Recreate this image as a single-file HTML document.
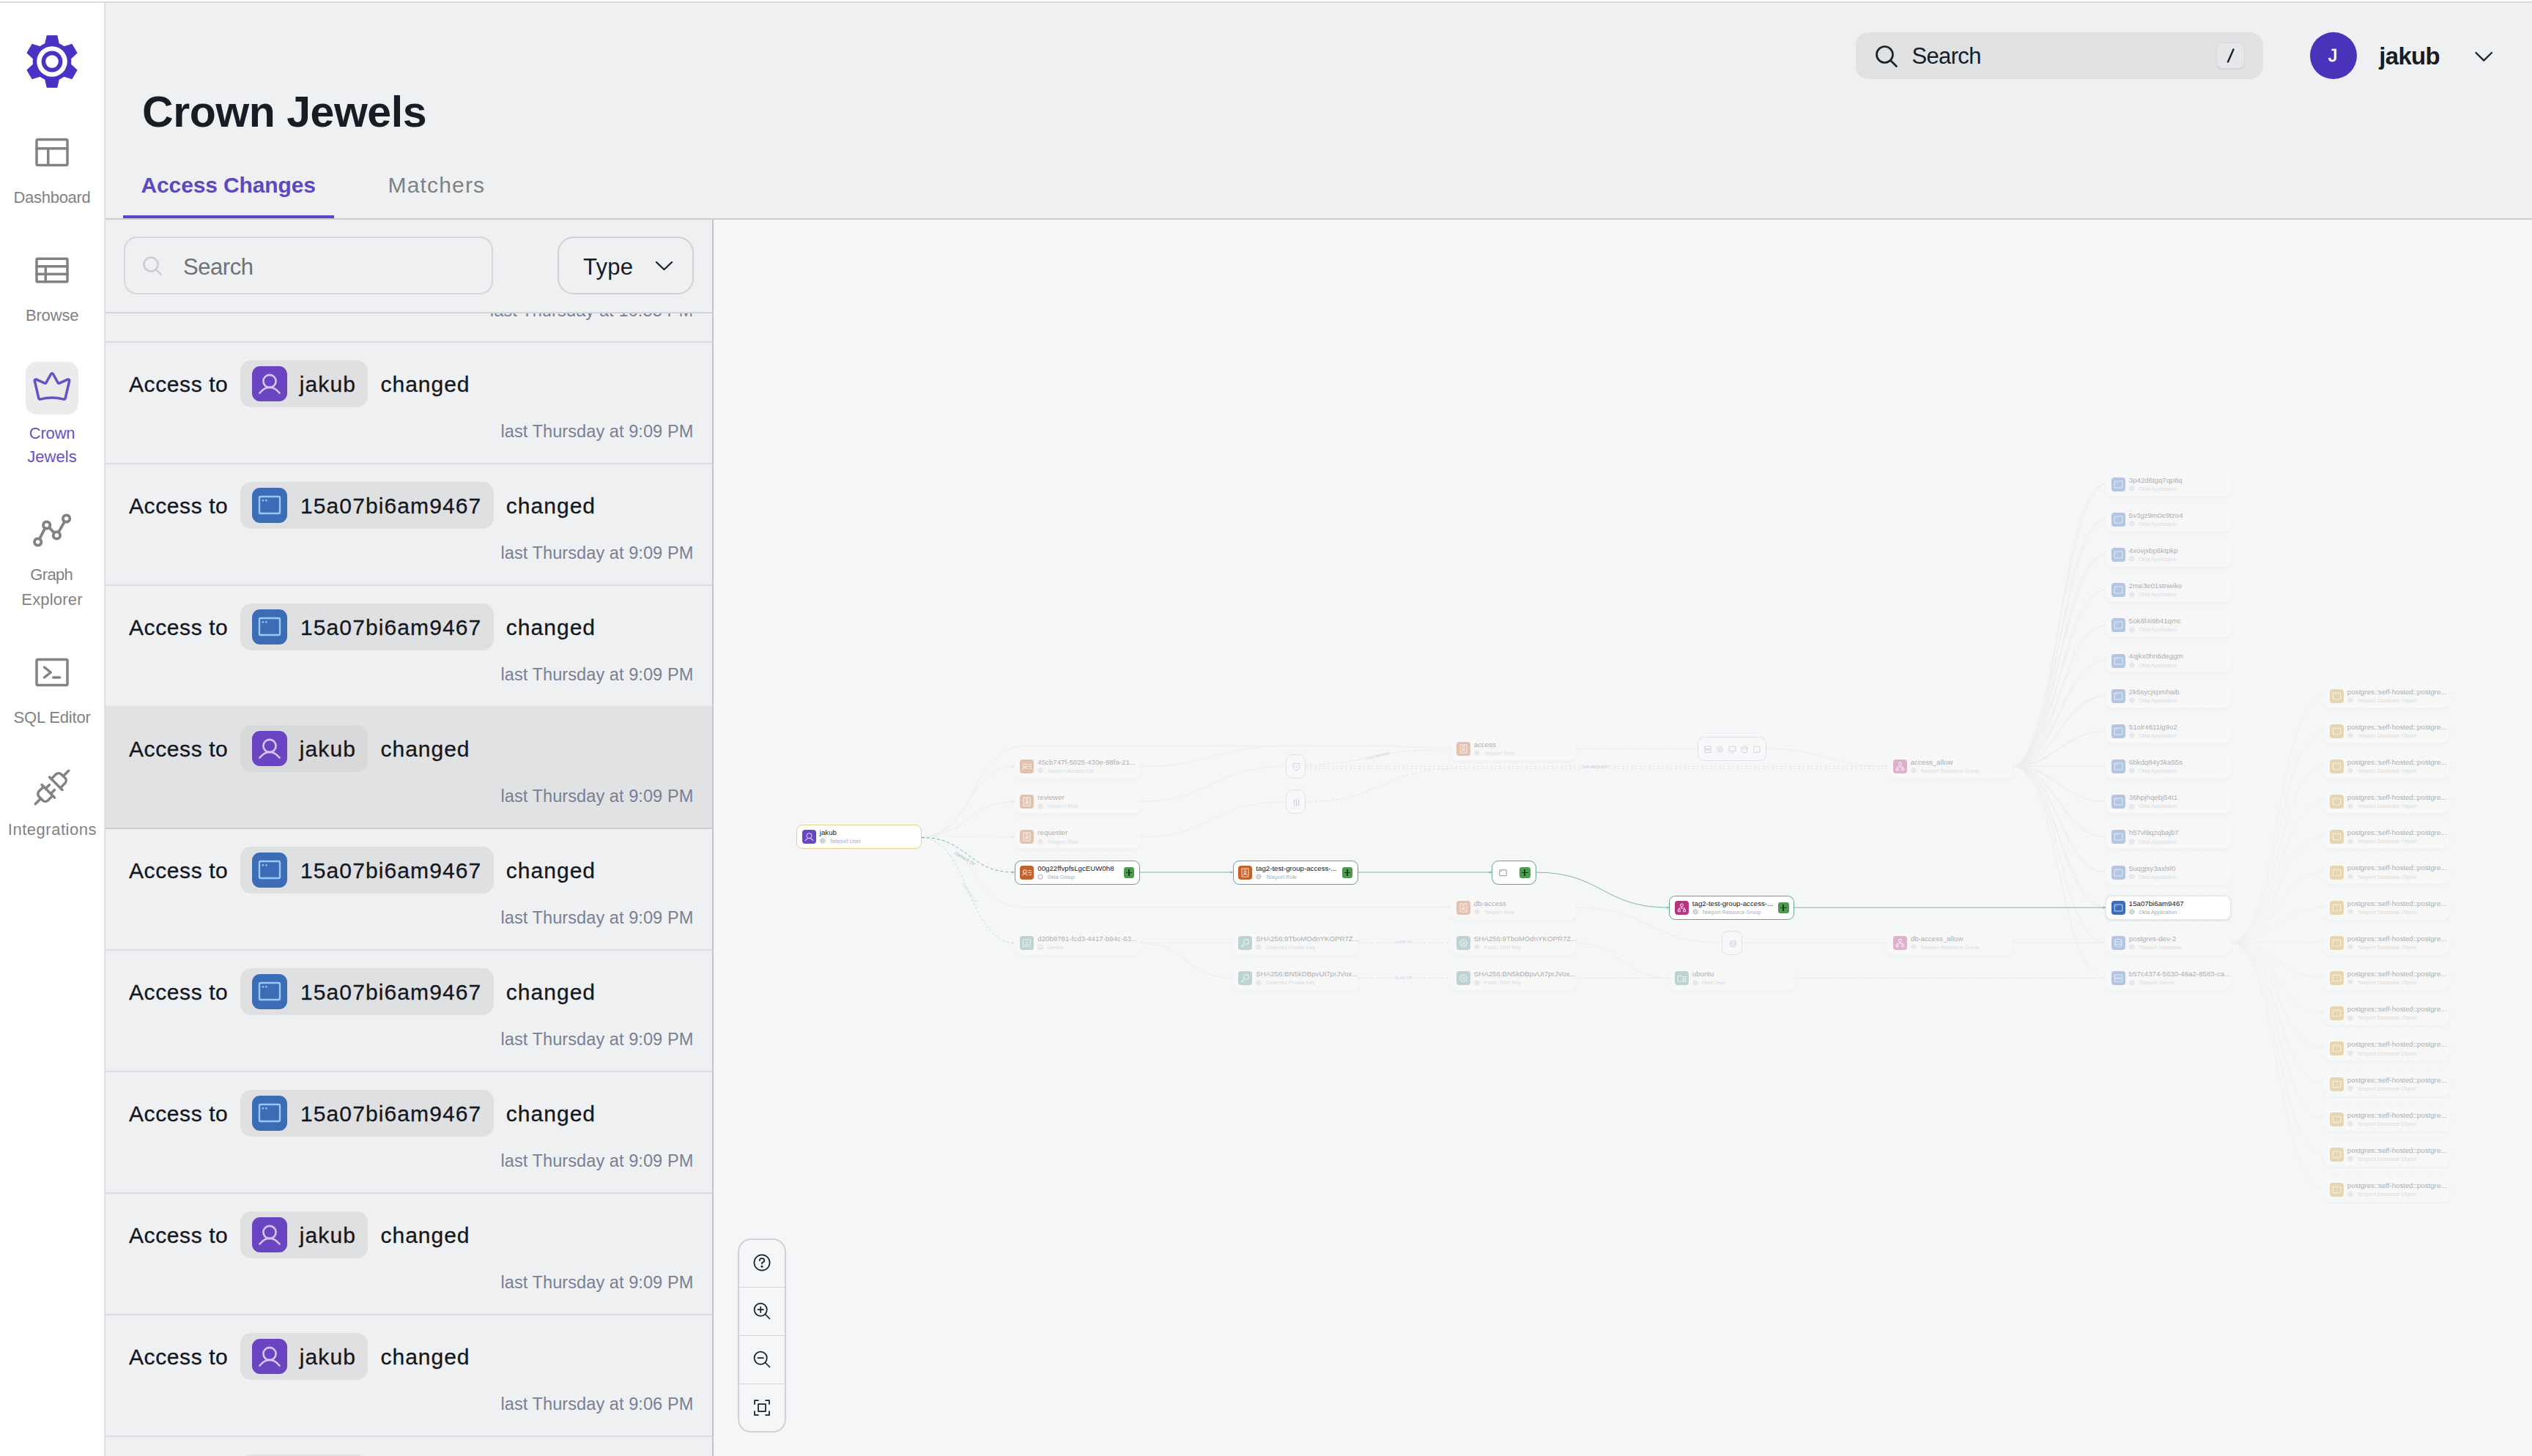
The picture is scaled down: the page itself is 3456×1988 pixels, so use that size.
<!DOCTYPE html><html><head><meta charset="utf-8"><title>Crown Jewels</title><style>
*{box-sizing:border-box;margin:0;padding:0}
html,body{width:3456px;height:1988px;overflow:hidden;background:#eff0f2;font-family:"Liberation Sans",sans-serif;}
body{position:relative}
.a{position:absolute}
.t{position:absolute;white-space:nowrap;line-height:1}
svg{position:absolute;overflow:visible}
.ni{fill:none;stroke:#828282;stroke-width:16;stroke-linecap:round;stroke-linejoin:round}

.g{position:absolute;left:974px;top:300px;width:2482px;height:1688px;background:#f5f6f7;overflow:hidden;
 background-image:radial-gradient(circle,#f9fafb 0.8px,rgba(249,250,251,0) 1.2px);background-size:14.2px 14.2px;background-position:3px 5px}
.n{position:absolute;height:33px;border-radius:8.5px;background:#fff;border:1px solid #ececef}
.n.f{opacity:.35;border-color:transparent;background:rgba(255,255,255,.6);box-shadow:0 1.5px 2px rgba(60,60,80,.08)}
.ic{position:absolute;left:6.800px;top:6.200px;width:19px;height:19px;border-radius:4px}
.ic svg{left:0;top:0}
.nt{position:absolute;left:30.800px;top:4.100px;font-size:9.7px;line-height:11px;color:#17181c;white-space:nowrap}
.ns{position:absolute;left:44.200px;top:17.300px;font-size:7.2px;line-height:9px;color:#a6aab3;white-space:nowrap}
.si{position:absolute;left:30.800px;top:17.600px;width:8px;height:8px}
.pl{position:absolute;right:6.500px;top:8.700px;width:14.5px;height:14.5px;border-radius:3.2px;background:#4f9a52}
.pl:before{content:"";position:absolute;left:3px;top:6.45px;width:8.5px;height:1.6px;background:#1b3f1d}
.pl:after{content:"";position:absolute;left:6.450px;top:3px;width:1.6px;height:8.5px;background:#1b3f1d}
</style></head><body>
<div class="a" style="left:0;top:0;width:3456px;height:2px;background:#fff"></div>
<div class="a" style="left:0;top:2px;width:3456px;height:2px;background:#dbdcdd"></div>
<div class="a" style="left:0;top:4px;width:142px;height:1984px;background:#fff"></div>
<div class="a" style="left:142px;top:4px;width:2px;height:1984px;background:#e0e1e2"></div>
<svg style="left:35px;top:48px" width="72" height="72" viewBox="-36 -36 72 72">
<g fill="#4b31c4" stroke="#4b31c4" stroke-width="1.2" stroke-linejoin="round">
<circle r="26.4" stroke="none"/>
<path id="tooth" d="M-9.300,-24 L-6.800,-35.200 L6.800,-35.200 L9.300,-24 Z"/>
<use href="#tooth" transform="rotate(60)"/><use href="#tooth" transform="rotate(120)"/><use href="#tooth" transform="rotate(180)"/><use href="#tooth" transform="rotate(240)"/><use href="#tooth" transform="rotate(300)"/>
</g>
<circle r="20.800" fill="#fff"/><circle r="14.400" fill="#4b31c4"/><circle r="8.800" fill="#fff"/>
</svg>
<svg class="ni" style="left:43.0px;top:179.5px" width="56" height="56" viewBox="0 0 256 256"><rect x="32" y="48" width="192" height="160" rx="8"/><line x1="104" y1="104" x2="104" y2="208"/><line x1="32" y1="104" x2="224" y2="104"/></svg>
<div class="t" style="left:18.50px;top:258.58px;font-size:22px;color:#828282;letter-spacing:-0.285px;">Dashboard</div>
<svg class="ni" style="left:43.0px;top:340.6px" width="56" height="56" viewBox="0 0 256 256"><rect x="32" y="56" width="192" height="144" rx="6"/><line x1="32" y1="104" x2="224" y2="104"/><line x1="32" y1="152" x2="224" y2="152"/><line x1="88" y1="104" x2="88" y2="200"/></svg>
<div class="t" style="left:34.90px;top:419.98px;font-size:22px;color:#828282;letter-spacing:-0.154px;">Browse</div>
<div class="a" style="left:35px;top:494px;width:72px;height:72px;border-radius:15px;background:#ebebed"></div>
<svg class="ni" style="left:43.0px;top:501.20000000000005px" width="56" height="56" viewBox="0 0 256 256"><path d="M45.1,196a8.1,8.1,0,0,0,10,5.9,273,273,0,0,1,145.7,0,8.1,8.1,0,0,0,10-5.9L236.3,87.700a8,8,0,0,0-11-9.200L174.7,101a8.100,8.100,0,0,1-10.300-3.400L135,44.600a8,8,0,0,0-14,0L91.600,97.600A8.100,8.100,0,0,1,81.300,101L30.700,78.500a8,8,0,0,0-11,9.200Z" style="stroke:#6a50c6"/></svg>
<div class="t" style="left:39.70px;top:580.98px;font-size:22px;color:#6a50c6;letter-spacing:-0.170px;">Crown</div>
<div class="t" style="left:37.30px;top:613.48px;font-size:22px;color:#6a50c6;letter-spacing:0.018px;">Jewels</div>
<svg style="left:0;top:0" width="142" height="1988" fill="none" stroke="#828282" stroke-width="3.8" stroke-linecap="round">
<circle cx="51.7" cy="740" r="4.7"/><circle cx="63.7" cy="717" r="4.7"/><circle cx="77.4" cy="730.9" r="4.7"/><circle cx="90.6" cy="708" r="4.7"/>
<line x1="53.9" y1="735.8" x2="61.5" y2="721.2"/><line x1="67" y1="720.3" x2="74.1" y2="727.6"/><line x1="79.8" y1="726.8" x2="88.2" y2="712.1"/>
</svg>
<div class="t" style="left:41.30px;top:774.38px;font-size:22px;color:#828282;letter-spacing:-0.665px;">Graph</div>
<div class="t" style="left:29.30px;top:808.08px;font-size:22px;color:#828282;letter-spacing:0.179px;">Explorer</div>
<svg class="ni" style="left:43.0px;top:889.5px" width="56" height="56" viewBox="0 0 256 256"><rect x="32" y="48" width="192" height="160" rx="8"/><polyline points="80 96 120 128 80 160"/><line x1="136" y1="160" x2="176" y2="160"/></svg>
<div class="t" style="left:18.50px;top:969.18px;font-size:22px;color:#828282;letter-spacing:-0.168px;">SQL Editor</div>
<svg class="ni" style="left:43.0px;top:1047.0px" width="56" height="56" viewBox="0 0 256 256"><line x1="144" y1="144" x2="120" y2="168"/><line x1="112" y1="112" x2="88" y2="136"/><line x1="64" y1="112" x2="144" y2="192"/><line x1="58.060" y1="197.940" x2="24" y2="232"/><path d="M132,180l-29,29a24,24,0,0,1-33.940,0L47,185.940A24,24,0,0,1,47,152l29-29"/><line x1="112" y1="64" x2="192" y2="144"/><line x1="197.940" y1="58.060" x2="232" y2="24"/><path d="M180,132l29-29a24,24,0,0,0,0-33.940L185.940,47A24,24,0,0,0,152,47L123,76"/></svg>
<div class="t" style="left:10.80px;top:1122.18px;font-size:22px;color:#828282;letter-spacing:0.523px;">Integrations</div>
<div class="t" style="left:194.00px;top:124.06px;font-size:59px;color:#181c25;font-weight:bold;letter-spacing:-0.457px;">Crown Jewels</div>
<div class="a" style="left:2533px;top:44px;width:556px;height:64px;border-radius:18px;background:#e0e1e3"></div>
<svg style="left:2556px;top:58px" width="40" height="40" viewBox="0 0 40 40" fill="none" stroke="#1c2029" stroke-width="2.700" stroke-linecap="round"><circle cx="16.500" cy="16.500" r="11"/><line x1="24.500" y1="24.500" x2="32.5" y2="32.500"/></svg>
<div class="t" style="left:2609.50px;top:61.26px;font-size:31px;color:#181c25;letter-spacing:-0.654px;">Search</div>
<div class="a" style="left:3025px;top:58px;width:39px;height:36px;border-radius:9px;background:#e6e7e9;border:1.5px solid #d6d7da;box-shadow:0 2px 0 #d9dadd"></div>
<svg style="left:3036px;top:64px" width="18" height="24" fill="none" stroke="#1c2029" stroke-width="2.4" stroke-linecap="round"><line x1="12.5" y1="3.5" x2="5" y2="20.5"/></svg>
<div class="a" style="left:3153px;top:44px;width:64px;height:64px;border-radius:50%;background:#4b32bb"></div>
<div class="t" style="left:3177.88px;top:64.16px;font-size:24.5px;color:#fff;-webkit-text-stroke:0.7px #fff;">J</div>
<div class="t" style="left:3247.36px;top:59.67px;font-size:33px;color:#181c25;font-weight:bold;letter-spacing:-0.747px;">jakub</div>
<svg style="left:3374px;top:66px" width="32" height="24" fill="none" stroke="#20242c" stroke-width="2.400" stroke-linecap="round" stroke-linejoin="round"><polyline points="5.500,6 16.200,16.600 27,6"/></svg>
<div class="t" style="left:192.50px;top:238.35px;font-size:30px;color:#5e47c2;font-weight:bold;letter-spacing:-0.127px;">Access Changes</div>
<div class="t" style="left:529.50px;top:238.35px;font-size:30px;color:#818181;letter-spacing:1.171px;">Matchers</div>
<div class="a" style="left:144px;top:298px;width:3312px;height:2px;background:#cbccce"></div>
<div class="a" style="left:168px;top:294px;width:288px;height:4px;background:#5e47c2"></div>
<div class="a" style="left:972px;top:300px;width:2px;height:1688px;background:#c5c6ca"></div>
<div class="a" style="left:169px;top:323px;width:504px;height:79px;border-radius:18px;border:2px solid #d6d7da"></div>
<svg style="left:190px;top:345px" width="40" height="40" fill="none" stroke="#c9cbd0" stroke-width="2.4" stroke-linecap="round"><circle cx="16" cy="16" r="9.500"/><line x1="23" y1="23" x2="30" y2="30"/></svg>
<div class="t" style="left:250.00px;top:348.76px;font-size:31px;color:#6f7277;letter-spacing:-0.454px;">Search</div>
<div class="a" style="left:761px;top:323px;width:186px;height:79px;border-radius:22px;border:2px solid #d0d1d4"></div>
<div class="t" style="left:796.00px;top:348.76px;font-size:31px;color:#181c25;letter-spacing:0.243px;">Type</div>
<svg style="left:891px;top:351.5px" width="32" height="24" fill="none" stroke="#20242c" stroke-width="2.4" stroke-linecap="round" stroke-linejoin="round"><polyline points="5,6 15.500,16 26,6"/></svg>
<div class="a" style="left:144px;top:426px;width:828px;height:2px;background:#d3d4d7"></div>
<div class="a" style="left:144px;top:428px;width:828px;height:38px;overflow:hidden"><div class="t" style="left:524.80px;top:-15.19px;font-size:23.5px;color:#798095;letter-spacing:0.138px;">last Thursday at 10:55 PM</div></div>
<div class="a" style="left:144px;top:466px;width:828px;height:2px;background:#dcdde0"></div>
<div class="t" style="left:176.00px;top:509.61px;font-size:30px;color:#14171e;letter-spacing:0.588px;-webkit-text-stroke:0.3px #14171e;">Access to</div>
<div class="a" style="left:328px;top:492px;width:174px;height:64px;border-radius:15px;background:#dfe0e2"></div>
<div class="a" style="left:344px;top:500px;width:48px;height:48px;border-radius:11px;background:#6a45c1"><svg style="left:0;top:0" width="48" height="48" viewBox="0 0 48 48" fill="none" stroke="#dac6f9" stroke-width="2.6" stroke-linecap="round"><circle cx="24" cy="20.5" r="8.600"/><path d="M10.500,36.500 Q24,21 37.500,36.500"/></svg></div>
<div class="t" style="left:408.75px;top:509.61px;font-size:30px;color:#14171e;letter-spacing:1.137px;-webkit-text-stroke:0.3px #14171e;">jakub</div>
<div class="t" style="left:519.50px;top:509.61px;font-size:30px;color:#14171e;letter-spacing:0.992px;-webkit-text-stroke:0.3px #14171e;">changed</div>
<div class="t" style="left:683.50px;top:577.61px;font-size:23.5px;color:#798095;letter-spacing:0.083px;">last Thursday at 9:09 PM</div>
<div class="a" style="left:144px;top:632px;width:828px;height:2px;background:#dcdde0"></div>
<div class="t" style="left:176.00px;top:675.61px;font-size:30px;color:#14171e;letter-spacing:0.588px;-webkit-text-stroke:0.3px #14171e;">Access to</div>
<div class="a" style="left:328px;top:658px;width:346px;height:64px;border-radius:15px;background:#dfe0e2"></div>
<div class="a" style="left:344px;top:666px;width:48px;height:48px;border-radius:11px;background:#3c6cb6"><svg style="left:0;top:0" width="48" height="48" viewBox="0 0 48 48" fill="none" stroke="#97cafc" stroke-width="2.400" stroke-linejoin="round"><rect x="10" y="12" width="28" height="23" rx="1.500"/><circle cx="15" cy="17.300" r="1.300" fill="#97cafc" stroke="none"/><circle cx="19.400" cy="17.300" r="1.300" fill="#97cafc" stroke="none"/></svg></div>
<div class="t" style="left:410.00px;top:675.61px;font-size:30px;color:#14171e;letter-spacing:1.104px;-webkit-text-stroke:0.3px #14171e;">15a07bi6am9467</div>
<div class="t" style="left:690.75px;top:675.61px;font-size:30px;color:#14171e;letter-spacing:1.033px;-webkit-text-stroke:0.3px #14171e;">changed</div>
<div class="t" style="left:683.50px;top:743.61px;font-size:23.5px;color:#798095;letter-spacing:0.083px;">last Thursday at 9:09 PM</div>
<div class="a" style="left:144px;top:798px;width:828px;height:2px;background:#dcdde0"></div>
<div class="t" style="left:176.00px;top:841.61px;font-size:30px;color:#14171e;letter-spacing:0.588px;-webkit-text-stroke:0.3px #14171e;">Access to</div>
<div class="a" style="left:328px;top:824px;width:346px;height:64px;border-radius:15px;background:#dfe0e2"></div>
<div class="a" style="left:344px;top:832px;width:48px;height:48px;border-radius:11px;background:#3c6cb6"><svg style="left:0;top:0" width="48" height="48" viewBox="0 0 48 48" fill="none" stroke="#97cafc" stroke-width="2.400" stroke-linejoin="round"><rect x="10" y="12" width="28" height="23" rx="1.500"/><circle cx="15" cy="17.300" r="1.300" fill="#97cafc" stroke="none"/><circle cx="19.400" cy="17.300" r="1.300" fill="#97cafc" stroke="none"/></svg></div>
<div class="t" style="left:410.00px;top:841.61px;font-size:30px;color:#14171e;letter-spacing:1.104px;-webkit-text-stroke:0.3px #14171e;">15a07bi6am9467</div>
<div class="t" style="left:690.75px;top:841.61px;font-size:30px;color:#14171e;letter-spacing:1.033px;-webkit-text-stroke:0.3px #14171e;">changed</div>
<div class="t" style="left:683.50px;top:909.61px;font-size:23.5px;color:#798095;letter-spacing:0.083px;">last Thursday at 9:09 PM</div>
<div class="a" style="left:144px;top:964px;width:828px;height:166px;background:#e1e2e4"></div>
<div class="t" style="left:176.00px;top:1007.61px;font-size:30px;color:#14171e;letter-spacing:0.588px;-webkit-text-stroke:0.3px #14171e;">Access to</div>
<div class="a" style="left:328px;top:990px;width:174px;height:64px;border-radius:15px;background:#d8d9db"></div>
<div class="a" style="left:344px;top:998px;width:48px;height:48px;border-radius:11px;background:#6a45c1"><svg style="left:0;top:0" width="48" height="48" viewBox="0 0 48 48" fill="none" stroke="#dac6f9" stroke-width="2.6" stroke-linecap="round"><circle cx="24" cy="20.5" r="8.600"/><path d="M10.500,36.500 Q24,21 37.500,36.500"/></svg></div>
<div class="t" style="left:408.75px;top:1007.61px;font-size:30px;color:#14171e;letter-spacing:1.137px;-webkit-text-stroke:0.3px #14171e;">jakub</div>
<div class="t" style="left:519.50px;top:1007.61px;font-size:30px;color:#14171e;letter-spacing:0.992px;-webkit-text-stroke:0.3px #14171e;">changed</div>
<div class="t" style="left:683.50px;top:1075.61px;font-size:23.5px;color:#798095;letter-spacing:0.083px;">last Thursday at 9:09 PM</div>
<div class="a" style="left:144px;top:1130px;width:828px;height:2px;background:#cccdcf"></div>
<div class="t" style="left:176.00px;top:1173.61px;font-size:30px;color:#14171e;letter-spacing:0.588px;-webkit-text-stroke:0.3px #14171e;">Access to</div>
<div class="a" style="left:328px;top:1156px;width:346px;height:64px;border-radius:15px;background:#dfe0e2"></div>
<div class="a" style="left:344px;top:1164px;width:48px;height:48px;border-radius:11px;background:#3c6cb6"><svg style="left:0;top:0" width="48" height="48" viewBox="0 0 48 48" fill="none" stroke="#97cafc" stroke-width="2.400" stroke-linejoin="round"><rect x="10" y="12" width="28" height="23" rx="1.500"/><circle cx="15" cy="17.300" r="1.300" fill="#97cafc" stroke="none"/><circle cx="19.400" cy="17.300" r="1.300" fill="#97cafc" stroke="none"/></svg></div>
<div class="t" style="left:410.00px;top:1173.61px;font-size:30px;color:#14171e;letter-spacing:1.104px;-webkit-text-stroke:0.3px #14171e;">15a07bi6am9467</div>
<div class="t" style="left:690.75px;top:1173.61px;font-size:30px;color:#14171e;letter-spacing:1.033px;-webkit-text-stroke:0.3px #14171e;">changed</div>
<div class="t" style="left:683.50px;top:1241.61px;font-size:23.5px;color:#798095;letter-spacing:0.083px;">last Thursday at 9:09 PM</div>
<div class="a" style="left:144px;top:1296px;width:828px;height:2px;background:#dcdde0"></div>
<div class="t" style="left:176.00px;top:1339.61px;font-size:30px;color:#14171e;letter-spacing:0.588px;-webkit-text-stroke:0.3px #14171e;">Access to</div>
<div class="a" style="left:328px;top:1322px;width:346px;height:64px;border-radius:15px;background:#dfe0e2"></div>
<div class="a" style="left:344px;top:1330px;width:48px;height:48px;border-radius:11px;background:#3c6cb6"><svg style="left:0;top:0" width="48" height="48" viewBox="0 0 48 48" fill="none" stroke="#97cafc" stroke-width="2.400" stroke-linejoin="round"><rect x="10" y="12" width="28" height="23" rx="1.500"/><circle cx="15" cy="17.300" r="1.300" fill="#97cafc" stroke="none"/><circle cx="19.400" cy="17.300" r="1.300" fill="#97cafc" stroke="none"/></svg></div>
<div class="t" style="left:410.00px;top:1339.61px;font-size:30px;color:#14171e;letter-spacing:1.104px;-webkit-text-stroke:0.3px #14171e;">15a07bi6am9467</div>
<div class="t" style="left:690.75px;top:1339.61px;font-size:30px;color:#14171e;letter-spacing:1.033px;-webkit-text-stroke:0.3px #14171e;">changed</div>
<div class="t" style="left:683.50px;top:1407.61px;font-size:23.5px;color:#798095;letter-spacing:0.083px;">last Thursday at 9:09 PM</div>
<div class="a" style="left:144px;top:1462px;width:828px;height:2px;background:#dcdde0"></div>
<div class="t" style="left:176.00px;top:1505.61px;font-size:30px;color:#14171e;letter-spacing:0.588px;-webkit-text-stroke:0.3px #14171e;">Access to</div>
<div class="a" style="left:328px;top:1488px;width:346px;height:64px;border-radius:15px;background:#dfe0e2"></div>
<div class="a" style="left:344px;top:1496px;width:48px;height:48px;border-radius:11px;background:#3c6cb6"><svg style="left:0;top:0" width="48" height="48" viewBox="0 0 48 48" fill="none" stroke="#97cafc" stroke-width="2.400" stroke-linejoin="round"><rect x="10" y="12" width="28" height="23" rx="1.500"/><circle cx="15" cy="17.300" r="1.300" fill="#97cafc" stroke="none"/><circle cx="19.400" cy="17.300" r="1.300" fill="#97cafc" stroke="none"/></svg></div>
<div class="t" style="left:410.00px;top:1505.61px;font-size:30px;color:#14171e;letter-spacing:1.104px;-webkit-text-stroke:0.3px #14171e;">15a07bi6am9467</div>
<div class="t" style="left:690.75px;top:1505.61px;font-size:30px;color:#14171e;letter-spacing:1.033px;-webkit-text-stroke:0.3px #14171e;">changed</div>
<div class="t" style="left:683.50px;top:1573.61px;font-size:23.5px;color:#798095;letter-spacing:0.083px;">last Thursday at 9:09 PM</div>
<div class="a" style="left:144px;top:1628px;width:828px;height:2px;background:#dcdde0"></div>
<div class="t" style="left:176.00px;top:1671.61px;font-size:30px;color:#14171e;letter-spacing:0.588px;-webkit-text-stroke:0.3px #14171e;">Access to</div>
<div class="a" style="left:328px;top:1654px;width:174px;height:64px;border-radius:15px;background:#dfe0e2"></div>
<div class="a" style="left:344px;top:1662px;width:48px;height:48px;border-radius:11px;background:#6a45c1"><svg style="left:0;top:0" width="48" height="48" viewBox="0 0 48 48" fill="none" stroke="#dac6f9" stroke-width="2.6" stroke-linecap="round"><circle cx="24" cy="20.5" r="8.600"/><path d="M10.500,36.500 Q24,21 37.500,36.500"/></svg></div>
<div class="t" style="left:408.75px;top:1671.61px;font-size:30px;color:#14171e;letter-spacing:1.137px;-webkit-text-stroke:0.3px #14171e;">jakub</div>
<div class="t" style="left:519.50px;top:1671.61px;font-size:30px;color:#14171e;letter-spacing:0.992px;-webkit-text-stroke:0.3px #14171e;">changed</div>
<div class="t" style="left:683.50px;top:1739.61px;font-size:23.5px;color:#798095;letter-spacing:0.083px;">last Thursday at 9:09 PM</div>
<div class="a" style="left:144px;top:1794px;width:828px;height:2px;background:#dcdde0"></div>
<div class="t" style="left:176.00px;top:1837.61px;font-size:30px;color:#14171e;letter-spacing:0.588px;-webkit-text-stroke:0.3px #14171e;">Access to</div>
<div class="a" style="left:328px;top:1820px;width:174px;height:64px;border-radius:15px;background:#dfe0e2"></div>
<div class="a" style="left:344px;top:1828px;width:48px;height:48px;border-radius:11px;background:#6a45c1"><svg style="left:0;top:0" width="48" height="48" viewBox="0 0 48 48" fill="none" stroke="#dac6f9" stroke-width="2.6" stroke-linecap="round"><circle cx="24" cy="20.5" r="8.600"/><path d="M10.500,36.500 Q24,21 37.500,36.500"/></svg></div>
<div class="t" style="left:408.75px;top:1837.61px;font-size:30px;color:#14171e;letter-spacing:1.137px;-webkit-text-stroke:0.3px #14171e;">jakub</div>
<div class="t" style="left:519.50px;top:1837.61px;font-size:30px;color:#14171e;letter-spacing:0.992px;-webkit-text-stroke:0.3px #14171e;">changed</div>
<div class="t" style="left:683.50px;top:1905.61px;font-size:23.5px;color:#798095;letter-spacing:0.083px;">last Thursday at 9:06 PM</div>
<div class="a" style="left:144px;top:1960px;width:828px;height:2px;background:#dcdde0"></div>
<div class="a" style="left:328px;top:1986px;width:174px;height:64px;border-radius:15px;background:#dfe0e2"></div>
<div class="g">
<svg style="left:0;top:0" width="2482" height="1688" fill="none" stroke-width="1">
<path d="M2071.0,987.3 C2134.5,987.3 2134.5,650.0 2198.0,650.0 M2071.0,987.3 C2134.5,987.3 2134.5,698.2 2198.0,698.2 M2071.0,987.3 C2134.5,987.3 2134.5,746.4 2198.0,746.4 M2071.0,987.3 C2134.5,987.3 2134.5,794.5 2198.0,794.5 M2071.0,987.3 C2134.5,987.3 2134.5,842.7 2198.0,842.7 M2071.0,987.3 C2134.5,987.3 2134.5,890.9 2198.0,890.9 M2071.0,987.3 C2134.5,987.3 2134.5,939.1 2198.0,939.1 M2071.0,987.3 C2134.5,987.3 2134.5,987.3 2198.0,987.3 M2071.0,987.3 C2134.5,987.3 2134.5,1035.4 2198.0,1035.4 M2071.0,987.3 C2134.5,987.3 2134.5,1083.6 2198.0,1083.6 M2071.0,987.3 C2134.5,987.3 2134.5,1131.8 2198.0,1131.8 M2071.0,987.3 C2134.5,987.3 2134.5,1180.0 2198.0,1180.0 M2071.0,987.3 C2134.5,987.3 2134.5,1228.2 2198.0,1228.2 M2071.0,987.3 C2134.5,987.3 2134.5,1276.3 2198.0,1276.3 M2071.0,987.3 C2134.5,987.3 2134.5,1324.5 2198.0,1324.5" stroke="#eff0f2"/>
<path d="M284.0,842.0 C347.2,842.0 347.2,746.4 410.5,746.4 M284.0,842.0 C347.2,842.0 347.2,794.6 410.5,794.6 M284.0,842.0 C347.2,842.0 347.2,842.8 410.5,842.8 M284.0,842.0 C362.1,842.0 347.9,718.5 426.0,718.5 L926,718.5  M926.0,718.5 L1006.0,722.3 M284.0,842.0 C362.1,842.0 347.9,939.2 426.0,939.2 L1006,939.2 M581.5,746.4 C683.8,746.4 683.8,718.5 786.0,718.5 M581.5,794.6 C681.0,794.6 681.0,746.4 780.5,746.4 M581.5,842.8 C681.0,842.8 681.0,794.8 780.5,794.8 M1177.0,722.3 L1343.0,722.3 M1436.5,722.3 C1519.2,722.3 1519.2,746.4 1602.0,746.4 M1773.0,746.4 C1836.5,746.4 1836.5,361.0 1900.0,361.0 M1773.0,746.4 C1826.3,746.4 1846.7,361.0 1900.0,361.0 M1773.0,746.4 C1836.5,746.4 1836.5,409.2 1900.0,409.2 M1773.0,746.4 C1826.3,746.4 1846.7,409.2 1900.0,409.2 M1773.0,746.4 C1836.5,746.4 1836.5,457.4 1900.0,457.4 M1773.0,746.4 C1826.3,746.4 1846.7,457.4 1900.0,457.4 M1773.0,746.4 C1836.5,746.4 1836.5,505.5 1900.0,505.5 M1773.0,746.4 C1826.3,746.4 1846.7,505.5 1900.0,505.5 M1773.0,746.4 C1836.5,746.4 1836.5,553.7 1900.0,553.7 M1773.0,746.4 C1826.3,746.4 1846.7,553.7 1900.0,553.7 M1773.0,746.4 C1836.5,746.4 1836.5,601.9 1900.0,601.9 M1773.0,746.4 C1826.3,746.4 1846.7,601.9 1900.0,601.9 M1773.0,746.4 C1836.5,746.4 1836.5,650.1 1900.0,650.1 M1773.0,746.4 C1826.3,746.4 1846.7,650.1 1900.0,650.1 M1773.0,746.4 C1836.5,746.4 1836.5,698.3 1900.0,698.3 M1773.0,746.4 C1826.3,746.4 1846.7,698.3 1900.0,698.3 M1773.0,746.4 C1836.5,746.4 1836.5,746.4 1900.0,746.4 M1773.0,746.4 C1826.3,746.4 1846.7,746.4 1900.0,746.4 M1773.0,746.4 C1836.5,746.4 1836.5,794.6 1900.0,794.6 M1773.0,746.4 C1826.3,746.4 1846.7,794.6 1900.0,794.6 M1773.0,746.4 C1836.5,746.4 1836.5,842.8 1900.0,842.8 M1773.0,746.4 C1826.3,746.4 1846.7,842.8 1900.0,842.8 M1773.0,746.4 C1836.5,746.4 1836.5,891.0 1900.0,891.0 M1773.0,746.4 C1826.3,746.4 1846.7,891.0 1900.0,891.0 M1773.0,746.4 C1836.5,746.4 1836.5,939.2 1900.0,939.2 M1773.0,746.4 C1826.3,746.4 1846.7,939.2 1900.0,939.2 M1177.0,939.2 C1276.5,939.2 1276.5,987.3 1376.0,987.3 M1404.0,987.3 L1602.0,987.3 M1773.0,987.3 L1900.0,987.3 M581.5,987.3 L708.5,987.3 M581.5,987.3 C645.0,987.3 645.0,1035.5 708.5,1035.5 M1177.0,987.3 C1240.5,987.3 1240.5,1035.5 1304.0,1035.5 M1177.0,1035.5 L1304.0,1035.5 M1475.0,1035.5 L1900.0,1035.5 M1773.0,746.4 C1836.5,746.4 1836.5,987.3 1900.0,987.3 M1773.0,746.4 C1836.5,746.4 1836.5,1035.5 1900.0,1035.5" stroke="#ebedee"/>
<path d="M808.0,746.4 L1602.0,746.4 M808.0,749.5 L1602.0,749.5 M808.0,794.8 C912.0,794.8 912.0,749.5 1016.0,749.5 M808.0,744.0 C897.0,744.0 897.0,724.0 986.0,724.0 L1006,724 M879.5,987.3 L1006.0,987.3 M879.5,1035.5 L1006.0,1035.5" stroke="#e2e4e7" stroke-dasharray="3 3"/>
<path d="M284.0,844.0 C347.2,844.0 347.2,987.3 410.5,987.3" stroke="#c9dcd5" stroke-dasharray="3 3"/>
<path d="M407.3,985.6 L410.5,987.3 L407.3,989.0 Z" fill="#c9dcd5" stroke="none"/>
<path d="M284.0,843.5 C347.2,843.5 347.2,891.0 410.5,891.0" stroke="#7db8a5" stroke-dasharray="4 3" stroke-width="1"/>
<path d="M407.3,889.3 L410.5,891.0 L407.3,892.7 Z" fill="#7db8a5" stroke="none"/>
<path d="M581.5,891.0 L708.5,891.0 M879.5,891.0 L1062.0,891.0 M1122.0,891.0 C1213.0,891.0 1213.0,939.2 1304.0,939.2 M1475.0,939.2 L1900.0,939.2" stroke="#7db8a5" stroke-width="1"/>
<path d="M705.3,889.3 L708.5,891.0 L705.3,892.7 Z" fill="#7db8a5" stroke="none"/>
<path d="M1058.8,889.3 L1062.0,891.0 L1058.8,892.7 Z" fill="#7db8a5" stroke="none"/>
<path d="M1300.8,937.5 L1304.0,939.2 L1300.8,940.9 Z" fill="#7db8a5" stroke="none"/>
<path d="M1896.8,937.5 L1900.0,939.2 L1896.8,940.9 Z" fill="#7db8a5" stroke="none"/>
<path d="M407.3,744.7 L410.5,746.4 L407.3,748.1 Z" fill="#e2e4e7" stroke="none"/>
<path d="M407.3,792.9 L410.5,794.6 L407.3,796.3 Z" fill="#e2e4e7" stroke="none"/>
<path d="M407.3,841.1 L410.5,842.8 L407.3,844.5 Z" fill="#e2e4e7" stroke="none"/>
</svg>
<div class="t" style="left:329px;top:862px;font-size:5.6px;color:#8fc2ae;transform:rotate(31deg);transform-origin:0 50%;letter-spacing:.2px">OWNER OF</div>
<div class="t" style="left:339px;top:903px;font-size:5.6px;color:#d3e2dc;transform:rotate(56deg);transform-origin:0 50%;letter-spacing:.2px">OWNER OF</div>
<div class="t" style="left:1184px;top:745px;font-size:5.2px;color:#c5c8ce;background:#f5f6f7;padding:0 1px">CAN REQUEST</div>
<div class="t" style="left:890px;top:730px;font-size:5.2px;color:#d5d8dc;transform:rotate(-14deg)">CAN REVIEW</div>
<div class="t" style="left:929px;top:984.3px;font-size:5.2px;color:#cfd2d7;background:#f5f6f7;padding:0 1px">ALIAS OF</div>
<div class="t" style="left:929px;top:1032.5px;font-size:5.2px;color:#cfd2d7;background:#f5f6f7;padding:0 1px">ALIAS OF</div>
<div class="n" style="left:113.0px;top:825.5px;width:171px;border-color:#e6cf94;"><div class="ic" style="background:#6a45c1"><svg width="19" height="19" viewBox="0 0 19 19" fill="none" stroke="#e1d2fb" stroke-width="1.050" stroke-linecap="round" stroke-linejoin="round"><circle cx="9.5" cy="8.1" r="3.4"/><path d="M4,14.600 Q9.500,8.500 15,14.600"/></svg></div><div class="nt">jakub</div><svg class="si" viewBox="0 0 8 8" fill="none" stroke="#9ba0ab" stroke-width="0.8"><circle cx="4" cy="4" r="1.400"/><path d="M4,0.700 L6.900,2.350 V5.650 L4,7.300 L1.100,5.650 V2.350 Z"/></svg><div class="ns">Teleport User</div></div>
<div class="n f" style="left:410.5px;top:729.9px;width:171px;"><div class="ic" style="background:#c4622d"><svg width="19" height="19" viewBox="0 0 19 19" fill="none" stroke="#f8dcc9" stroke-width="1.050" stroke-linecap="round" stroke-linejoin="round"><circle cx="6.800" cy="8" r="2.300"/><path d="M3.200,13 Q6.800,8.800 10.400,13"/><path d="M11.500,6.800 H15.800 M11.500,9.500 H15.800 M12.800,12.200 H15.800"/></svg></div><div class="nt">45cb747f-5025-430e-88fa-21...</div><svg class="si" viewBox="0 0 8 8" fill="none" stroke="#9ba0ab" stroke-width="0.8"><circle cx="4" cy="4" r="1.400"/><path d="M4,0.700 L6.900,2.350 V5.650 L4,7.300 L1.100,5.650 V2.350 Z"/></svg><div class="ns">Teleport Access List</div></div>
<div class="n f" style="left:410.5px;top:778.1px;width:171px;"><div class="ic" style="background:#c4622d"><svg width="19" height="19" viewBox="0 0 19 19" fill="none" stroke="#f8dcc9" stroke-width="1.050" stroke-linecap="round" stroke-linejoin="round"><rect x="5" y="3.800" width="9" height="11.400" rx="0.6"/><circle cx="9.500" cy="9" r="1.600"/><path d="M7,12.700 Q9.500,10 12,12.700"/><path d="M7.800,5.800 H11.200"/></svg></div><div class="nt">reviewer</div><svg class="si" viewBox="0 0 8 8" fill="none" stroke="#9ba0ab" stroke-width="0.8"><circle cx="4" cy="4" r="1.400"/><path d="M4,0.700 L6.900,2.350 V5.650 L4,7.300 L1.100,5.650 V2.350 Z"/></svg><div class="ns">Teleport Role</div></div>
<div class="n f" style="left:410.5px;top:826.3px;width:171px;"><div class="ic" style="background:#c4622d"><svg width="19" height="19" viewBox="0 0 19 19" fill="none" stroke="#f8dcc9" stroke-width="1.050" stroke-linecap="round" stroke-linejoin="round"><rect x="5" y="3.800" width="9" height="11.400" rx="0.6"/><circle cx="9.500" cy="9" r="1.600"/><path d="M7,12.700 Q9.500,10 12,12.700"/><path d="M7.800,5.800 H11.200"/></svg></div><div class="nt">requester</div><svg class="si" viewBox="0 0 8 8" fill="none" stroke="#9ba0ab" stroke-width="0.8"><circle cx="4" cy="4" r="1.400"/><path d="M4,0.700 L6.900,2.350 V5.650 L4,7.300 L1.100,5.650 V2.350 Z"/></svg><div class="ns">Teleport Role</div></div>
<div class="n" style="left:410.5px;top:874.5px;width:171px;border-color:#5da68e;"><div class="ic" style="background:#c4622d"><svg width="19" height="19" viewBox="0 0 19 19" fill="none" stroke="#f8dcc9" stroke-width="1.050" stroke-linecap="round" stroke-linejoin="round"><circle cx="6.800" cy="8" r="2.300"/><path d="M3.200,13 Q6.800,8.800 10.400,13"/><path d="M11.500,6.800 H15.800 M11.500,9.500 H15.800 M12.800,12.200 H15.800"/></svg></div><div class="nt">00g22ffvpfsLgcEUW0h8</div><svg class="si" viewBox="0 0 8 8" fill="none" stroke="#9ba0ab" stroke-width="0.9"><path d="M4,0.800 L7.200,3.200 L6,7 H2 L0.800,3.200 Z"/></svg><div class="ns">Okta Group</div><div class="pl"></div></div>
<div class="n f" style="left:410.5px;top:970.8px;width:171px;"><div class="ic" style="background:#5a928c"><svg width="19" height="19" viewBox="0 0 19 19" fill="none" stroke="#d2ecea" stroke-width="1.050" stroke-linecap="round" stroke-linejoin="round"><rect x="4.500" y="5" width="10" height="7" rx="0.6"/><path d="M3.500,14.200 H15.500"/><path d="M8,9.500 Q9.500,8 11,9.500"/></svg></div><div class="nt">d20b9781-fcd3-4417-b94c-63...</div><svg class="si" viewBox="0 0 8 8" fill="none" stroke="#9ba0ab" stroke-width="0.8"><rect x="1" y="1.500" width="6" height="4"/><path d="M0.500,6.800 H7.500"/></svg><div class="ns">Device</div></div>
<div class="n" style="left:708.5px;top:874.5px;width:171px;border-color:#5da68e;"><div class="ic" style="background:#c4622d"><svg width="19" height="19" viewBox="0 0 19 19" fill="none" stroke="#f8dcc9" stroke-width="1.050" stroke-linecap="round" stroke-linejoin="round"><rect x="5" y="3.800" width="9" height="11.400" rx="0.6"/><circle cx="9.500" cy="9" r="1.600"/><path d="M7,12.700 Q9.500,10 12,12.700"/><path d="M7.800,5.800 H11.200"/></svg></div><div class="nt">tag2-test-group-access-...</div><svg class="si" viewBox="0 0 8 8" fill="none" stroke="#9ba0ab" stroke-width="0.8"><circle cx="4" cy="4" r="1.400"/><path d="M4,0.700 L6.900,2.350 V5.650 L4,7.300 L1.100,5.650 V2.350 Z"/></svg><div class="ns">Teleport Role</div><div class="pl"></div></div>
<div class="n f" style="left:708.5px;top:970.8px;width:171px;"><div class="ic" style="background:#5a928c"><svg width="19" height="19" viewBox="0 0 19 19" fill="none" stroke="#d2ecea" stroke-width="1.050" stroke-linecap="round" stroke-linejoin="round"><circle cx="11.200" cy="7.800" r="3.400"/><path d="M8.700,10.300 L4.300,14.700 M5.800,13.200 L7,14.400"/></svg></div><div class="nt">SHA256:9TboMOdnYKOPR7Z...</div><svg class="si" viewBox="0 0 8 8" fill="none" stroke="#9ba0ab" stroke-width="0.8"><circle cx="4" cy="4" r="1.400"/><path d="M4,0.700 L6.900,2.350 V5.650 L4,7.300 L1.100,5.650 V2.350 Z"/></svg><div class="ns">Detected Private Key</div></div>
<div class="n f" style="left:708.5px;top:1019.0px;width:171px;"><div class="ic" style="background:#5a928c"><svg width="19" height="19" viewBox="0 0 19 19" fill="none" stroke="#d2ecea" stroke-width="1.050" stroke-linecap="round" stroke-linejoin="round"><circle cx="11.200" cy="7.800" r="3.400"/><path d="M8.700,10.300 L4.300,14.700 M5.800,13.200 L7,14.400"/></svg></div><div class="nt">SHA256:BN5kDBpvUt7prJVox...</div><svg class="si" viewBox="0 0 8 8" fill="none" stroke="#9ba0ab" stroke-width="0.8"><circle cx="4" cy="4" r="1.400"/><path d="M4,0.700 L6.900,2.350 V5.650 L4,7.300 L1.100,5.650 V2.350 Z"/></svg><div class="ns">Detected Private Key</div></div>
<div class="n" style="left:780.5px;top:729.9px;width:27.5px;border-radius:9.5px;border-color:#e0e2e5;background:#f7f8f9;"><div style="opacity:.4"><svg style="left:8px;top:10.500px" width="11" height="12" viewBox="0 0 11 12" fill="none" stroke="#8d929c" stroke-width="0.9"><path d="M1,1.500 H10 V5.500 Q10,9.500 5.500,11 Q1,9.500 1,5.500 Z"/><path d="M3.500,5.800 L5,7.300 L7.700,4.500"/></svg></div></div>
<div class="n" style="left:780.5px;top:778.3px;width:27.5px;border-radius:9.5px;border-color:#e0e2e5;background:#f7f8f9;"><div style="opacity:.4"><svg style="left:8px;top:10.500px" width="11" height="12" viewBox="0 0 11 12" fill="none" stroke="#8d929c" stroke-width="0.9"><path d="M2.500,1 V11 M5.500,1 V11 M8.500,1 V11 M1.300,4 H3.700 M4.300,8 H6.700 M7.300,5 H9.700"/></svg></div></div>
<div class="n f" style="left:1006.0px;top:705.8px;width:171px;"><div class="ic" style="background:#c4622d"><svg width="19" height="19" viewBox="0 0 19 19" fill="none" stroke="#f8dcc9" stroke-width="1.050" stroke-linecap="round" stroke-linejoin="round"><rect x="5" y="3.800" width="9" height="11.400" rx="0.6"/><circle cx="9.500" cy="9" r="1.600"/><path d="M7,12.700 Q9.500,10 12,12.700"/><path d="M7.800,5.800 H11.200"/></svg></div><div class="nt">access</div><svg class="si" viewBox="0 0 8 8" fill="none" stroke="#9ba0ab" stroke-width="0.8"><circle cx="4" cy="4" r="1.400"/><path d="M4,0.700 L6.900,2.350 V5.650 L4,7.300 L1.100,5.650 V2.350 Z"/></svg><div class="ns">Teleport Role</div></div>
<div class="n" style="left:1062.0px;top:874.5px;width:60.5px;border-radius:9.5px;border-color:#5da68e;"><svg style="left:8.500px;top:11px" width="11" height="10" viewBox="0 0 11 10" fill="none" stroke="#7d828c" stroke-width="0.9"><rect x="0.800" y="0.800" width="9.400" height="8" rx="0.8"/><path d="M2.300,2.500 h0.010 M3.600,2.500 h0.010" stroke-linecap="round"/></svg><div class="pl" style="right:7px"></div></div>
<div class="n f" style="left:1006.0px;top:922.7px;width:171px;"><div class="ic" style="background:#c4622d"><svg width="19" height="19" viewBox="0 0 19 19" fill="none" stroke="#f8dcc9" stroke-width="1.050" stroke-linecap="round" stroke-linejoin="round"><rect x="5" y="3.800" width="9" height="11.400" rx="0.6"/><circle cx="9.500" cy="9" r="1.600"/><path d="M7,12.700 Q9.500,10 12,12.700"/><path d="M7.800,5.800 H11.200"/></svg></div><div class="nt">db-access</div><svg class="si" viewBox="0 0 8 8" fill="none" stroke="#9ba0ab" stroke-width="0.8"><circle cx="4" cy="4" r="1.400"/><path d="M4,0.700 L6.900,2.350 V5.650 L4,7.300 L1.100,5.650 V2.350 Z"/></svg><div class="ns">Teleport Role</div></div>
<div class="n f" style="left:1006.0px;top:970.8px;width:171px;"><div class="ic" style="background:#5a928c"><svg width="19" height="19" viewBox="0 0 19 19" fill="none" stroke="#d2ecea" stroke-width="1.050" stroke-linecap="round" stroke-linejoin="round"><circle cx="9.500" cy="9.500" r="4.800"/><circle cx="9.500" cy="9.500" r="1.800"/></svg></div><div class="nt">SHA256:9TboMOdnYKOPR7Z...</div><svg class="si" viewBox="0 0 8 8" fill="none" stroke="#9ba0ab" stroke-width="0.8"><circle cx="4" cy="4" r="1.400"/><path d="M4,0.700 L6.900,2.350 V5.650 L4,7.300 L1.100,5.650 V2.350 Z"/></svg><div class="ns">Public SSH Key</div></div>
<div class="n f" style="left:1006.0px;top:1019.0px;width:171px;"><div class="ic" style="background:#5a928c"><svg width="19" height="19" viewBox="0 0 19 19" fill="none" stroke="#d2ecea" stroke-width="1.050" stroke-linecap="round" stroke-linejoin="round"><circle cx="9.500" cy="9.500" r="4.800"/><circle cx="9.500" cy="9.500" r="1.800"/></svg></div><div class="nt">SHA256:BN5kDBpvUt7prJVox...</div><svg class="si" viewBox="0 0 8 8" fill="none" stroke="#9ba0ab" stroke-width="0.8"><circle cx="4" cy="4" r="1.400"/><path d="M4,0.700 L6.900,2.350 V5.650 L4,7.300 L1.100,5.650 V2.350 Z"/></svg><div class="ns">Public SSH Key</div></div>
<div class="n" style="left:1343.0px;top:705.8px;width:93.5px;border-radius:9.5px;border-color:#e0e2e5;background:#f7f8f9;"><div style="opacity:.4"><svg style="left:8px;top:11px" width="78" height="11" viewBox="0 0 78 11" fill="none" stroke="#8d929c" stroke-width="0.9"><rect x="1" y="1" width="8" height="3.600"/><rect x="1" y="6" width="8" height="3.600"/><circle cx="21.5" cy="5.300" r="3.800"/><circle cx="21.5" cy="5.300" r="1.300"/><rect x="34" y="1.300" width="9" height="6"/><path d="M36,9.800 H41"/><ellipse cx="55" cy="2.800" rx="3.800" ry="1.600"/><path d="M51.2,2.800 V8 A3.800,1.600 0 0 0 58.800,8 V2.800"/><rect x="67.500" y="1.300" width="8.500" height="8" rx="0.8"/></svg></div></div>
<div class="n" style="left:1304.0px;top:922.7px;width:171px;border-color:#5da68e;"><div class="ic" style="background:#b3347f"><svg width="19" height="19" viewBox="0 0 19 19" fill="none" stroke="#fbd0ea" stroke-width="1.050" stroke-linecap="round" stroke-linejoin="round"><circle cx="9.500" cy="6" r="1.900"/><path d="M9.500,8 V10 M5.800,12 V10 H13.200 V12"/><rect x="4.300" y="12" width="3" height="2.800" rx="0.4"/><rect x="11.700" y="12" width="3" height="2.800" rx="0.4"/></svg></div><div class="nt">tag2-test-group-access-...</div><svg class="si" viewBox="0 0 8 8" fill="none" stroke="#9ba0ab" stroke-width="0.8"><circle cx="4" cy="4" r="1.400"/><path d="M4,0.700 L6.900,2.350 V5.650 L4,7.300 L1.100,5.650 V2.350 Z"/></svg><div class="ns">Teleport Resource Group</div><div class="pl"></div></div>
<div class="n" style="left:1376.0px;top:970.8px;width:28.0px;border-radius:9.5px;border-color:#e0e2e5;background:#f7f8f9;"><div style="opacity:.4"><svg style="left:8.500px;top:11px" width="11" height="11" viewBox="0 0 11 11" fill="none" stroke="#8d929c" stroke-width="0.9"><ellipse cx="5.500" cy="3" rx="3.800" ry="1.600"/><path d="M1.700,3 V8 A3.800,1.600 0 0 0 9.300,8 V3 M1.700,5.500 A3.800,1.600 0 0 0 9.300,5.500"/></svg></div></div>
<div class="n f" style="left:1304.0px;top:1019.0px;width:171px;"><div class="ic" style="background:#5a928c"><svg width="19" height="19" viewBox="0 0 19 19" fill="none" stroke="#d2ecea" stroke-width="1.050" stroke-linecap="round" stroke-linejoin="round"><path d="M4.200,6 H8 L9.500,7.500 H14.800 V14 H4.200 Z"/><circle cx="11.800" cy="11" r="1"/><path d="M11.800,12 V13.500"/></svg></div><div class="nt">ubuntu</div><svg class="si" viewBox="0 0 8 8" fill="none" stroke="#9ba0ab" stroke-width="0.8"><circle cx="4" cy="4" r="1.400"/><path d="M4,0.700 L6.900,2.350 V5.650 L4,7.300 L1.100,5.650 V2.350 Z"/></svg><div class="ns">Host User</div></div>
<div class="n f" style="left:1602.0px;top:729.9px;width:171px;"><div class="ic" style="background:#b3347f"><svg width="19" height="19" viewBox="0 0 19 19" fill="none" stroke="#fbd0ea" stroke-width="1.050" stroke-linecap="round" stroke-linejoin="round"><circle cx="9.500" cy="6" r="1.900"/><path d="M9.500,8 V10 M5.800,12 V10 H13.200 V12"/><rect x="4.300" y="12" width="3" height="2.800" rx="0.4"/><rect x="11.700" y="12" width="3" height="2.800" rx="0.4"/></svg></div><div class="nt">access_allow</div><svg class="si" viewBox="0 0 8 8" fill="none" stroke="#9ba0ab" stroke-width="0.8"><circle cx="4" cy="4" r="1.400"/><path d="M4,0.700 L6.900,2.350 V5.650 L4,7.300 L1.100,5.650 V2.350 Z"/></svg><div class="ns">Teleport Resource Group</div></div>
<div class="n f" style="left:1602.0px;top:970.8px;width:171px;"><div class="ic" style="background:#b3347f"><svg width="19" height="19" viewBox="0 0 19 19" fill="none" stroke="#fbd0ea" stroke-width="1.050" stroke-linecap="round" stroke-linejoin="round"><circle cx="9.500" cy="6" r="1.900"/><path d="M9.500,8 V10 M5.800,12 V10 H13.200 V12"/><rect x="4.300" y="12" width="3" height="2.800" rx="0.4"/><rect x="11.700" y="12" width="3" height="2.800" rx="0.4"/></svg></div><div class="nt">db-access_allow</div><svg class="si" viewBox="0 0 8 8" fill="none" stroke="#9ba0ab" stroke-width="0.8"><circle cx="4" cy="4" r="1.400"/><path d="M4,0.700 L6.900,2.350 V5.650 L4,7.300 L1.100,5.650 V2.350 Z"/></svg><div class="ns">Teleport Resource Group</div></div>
<div class="n f" style="left:1900.0px;top:344.5px;width:171px;"><div class="ic" style="background:#3c6cb6"><svg width="19" height="19" viewBox="0 0 19 19" fill="none" stroke="#b7d6fb" stroke-width="1.050" stroke-linecap="round" stroke-linejoin="round"><rect x="4.200" y="5" width="10.600" height="9" rx="0.6"/><path d="M6,7.100 h0.010 M7.600,7.100 h0.010"/></svg></div><div class="nt">3p42d6tgq7qp8q</div><svg class="si" viewBox="0 0 8 8" fill="none" stroke="#9ba0ab" stroke-width="0.8"><circle cx="4" cy="4" r="1.400"/><path d="M4,0.700 L6.900,2.350 V5.650 L4,7.300 L1.100,5.650 V2.350 Z"/></svg><div class="ns">Okta Application</div></div>
<div class="n f" style="left:1900.0px;top:392.7px;width:171px;"><div class="ic" style="background:#3c6cb6"><svg width="19" height="19" viewBox="0 0 19 19" fill="none" stroke="#b7d6fb" stroke-width="1.050" stroke-linecap="round" stroke-linejoin="round"><rect x="4.200" y="5" width="10.600" height="9" rx="0.6"/><path d="M6,7.100 h0.010 M7.600,7.100 h0.010"/></svg></div><div class="nt">5v3gz9m0e9tzo4</div><svg class="si" viewBox="0 0 8 8" fill="none" stroke="#9ba0ab" stroke-width="0.8"><circle cx="4" cy="4" r="1.400"/><path d="M4,0.700 L6.900,2.350 V5.650 L4,7.300 L1.100,5.650 V2.350 Z"/></svg><div class="ns">Okta Application</div></div>
<div class="n f" style="left:1900.0px;top:440.9px;width:171px;"><div class="ic" style="background:#3c6cb6"><svg width="19" height="19" viewBox="0 0 19 19" fill="none" stroke="#b7d6fb" stroke-width="1.050" stroke-linecap="round" stroke-linejoin="round"><rect x="4.200" y="5" width="10.600" height="9" rx="0.6"/><path d="M6,7.100 h0.010 M7.600,7.100 h0.010"/></svg></div><div class="nt">4xovjxbp6ktpkp</div><svg class="si" viewBox="0 0 8 8" fill="none" stroke="#9ba0ab" stroke-width="0.8"><circle cx="4" cy="4" r="1.400"/><path d="M4,0.700 L6.900,2.350 V5.650 L4,7.300 L1.100,5.650 V2.350 Z"/></svg><div class="ns">Okta Application</div></div>
<div class="n f" style="left:1900.0px;top:489.0px;width:171px;"><div class="ic" style="background:#3c6cb6"><svg width="19" height="19" viewBox="0 0 19 19" fill="none" stroke="#b7d6fb" stroke-width="1.050" stroke-linecap="round" stroke-linejoin="round"><rect x="4.200" y="5" width="10.600" height="9" rx="0.6"/><path d="M6,7.100 h0.010 M7.600,7.100 h0.010"/></svg></div><div class="nt">2me3e01stnwike</div><svg class="si" viewBox="0 0 8 8" fill="none" stroke="#9ba0ab" stroke-width="0.8"><circle cx="4" cy="4" r="1.400"/><path d="M4,0.700 L6.900,2.350 V5.650 L4,7.300 L1.100,5.650 V2.350 Z"/></svg><div class="ns">Okta Application</div></div>
<div class="n f" style="left:1900.0px;top:537.2px;width:171px;"><div class="ic" style="background:#3c6cb6"><svg width="19" height="19" viewBox="0 0 19 19" fill="none" stroke="#b7d6fb" stroke-width="1.050" stroke-linecap="round" stroke-linejoin="round"><rect x="4.200" y="5" width="10.600" height="9" rx="0.6"/><path d="M6,7.100 h0.010 M7.600,7.100 h0.010"/></svg></div><div class="nt">5ok8f4i9b41qmc</div><svg class="si" viewBox="0 0 8 8" fill="none" stroke="#9ba0ab" stroke-width="0.8"><circle cx="4" cy="4" r="1.400"/><path d="M4,0.700 L6.900,2.350 V5.650 L4,7.300 L1.100,5.650 V2.350 Z"/></svg><div class="ns">Okta Application</div></div>
<div class="n f" style="left:1900.0px;top:585.4px;width:171px;"><div class="ic" style="background:#3c6cb6"><svg width="19" height="19" viewBox="0 0 19 19" fill="none" stroke="#b7d6fb" stroke-width="1.050" stroke-linecap="round" stroke-linejoin="round"><rect x="4.200" y="5" width="10.600" height="9" rx="0.6"/><path d="M6,7.100 h0.010 M7.600,7.100 h0.010"/></svg></div><div class="nt">4qjkx0hn6deggm</div><svg class="si" viewBox="0 0 8 8" fill="none" stroke="#9ba0ab" stroke-width="0.8"><circle cx="4" cy="4" r="1.400"/><path d="M4,0.700 L6.900,2.350 V5.650 L4,7.300 L1.100,5.650 V2.350 Z"/></svg><div class="ns">Okta Application</div></div>
<div class="n f" style="left:1900.0px;top:633.6px;width:171px;"><div class="ic" style="background:#3c6cb6"><svg width="19" height="19" viewBox="0 0 19 19" fill="none" stroke="#b7d6fb" stroke-width="1.050" stroke-linecap="round" stroke-linejoin="round"><rect x="4.200" y="5" width="10.600" height="9" rx="0.6"/><path d="M6,7.100 h0.010 M7.600,7.100 h0.010"/></svg></div><div class="nt">2k6sycjspmhaib</div><svg class="si" viewBox="0 0 8 8" fill="none" stroke="#9ba0ab" stroke-width="0.8"><circle cx="4" cy="4" r="1.400"/><path d="M4,0.700 L6.900,2.350 V5.650 L4,7.300 L1.100,5.650 V2.350 Z"/></svg><div class="ns">Okta Application</div></div>
<div class="n f" style="left:1900.0px;top:681.8px;width:171px;"><div class="ic" style="background:#3c6cb6"><svg width="19" height="19" viewBox="0 0 19 19" fill="none" stroke="#b7d6fb" stroke-width="1.050" stroke-linecap="round" stroke-linejoin="round"><rect x="4.200" y="5" width="10.600" height="9" rx="0.6"/><path d="M6,7.100 h0.010 M7.600,7.100 h0.010"/></svg></div><div class="nt">51olr4611lg9o2</div><svg class="si" viewBox="0 0 8 8" fill="none" stroke="#9ba0ab" stroke-width="0.8"><circle cx="4" cy="4" r="1.400"/><path d="M4,0.700 L6.900,2.350 V5.650 L4,7.300 L1.100,5.650 V2.350 Z"/></svg><div class="ns">Okta Application</div></div>
<div class="n f" style="left:1900.0px;top:729.9px;width:171px;"><div class="ic" style="background:#3c6cb6"><svg width="19" height="19" viewBox="0 0 19 19" fill="none" stroke="#b7d6fb" stroke-width="1.050" stroke-linecap="round" stroke-linejoin="round"><rect x="4.200" y="5" width="10.600" height="9" rx="0.6"/><path d="M6,7.100 h0.010 M7.600,7.100 h0.010"/></svg></div><div class="nt">6bkdq84y3ka55s</div><svg class="si" viewBox="0 0 8 8" fill="none" stroke="#9ba0ab" stroke-width="0.8"><circle cx="4" cy="4" r="1.400"/><path d="M4,0.700 L6.900,2.350 V5.650 L4,7.300 L1.100,5.650 V2.350 Z"/></svg><div class="ns">Okta Application</div></div>
<div class="n f" style="left:1900.0px;top:778.1px;width:171px;"><div class="ic" style="background:#3c6cb6"><svg width="19" height="19" viewBox="0 0 19 19" fill="none" stroke="#b7d6fb" stroke-width="1.050" stroke-linecap="round" stroke-linejoin="round"><rect x="4.200" y="5" width="10.600" height="9" rx="0.6"/><path d="M6,7.100 h0.010 M7.600,7.100 h0.010"/></svg></div><div class="nt">36hpjhqebj54t1</div><svg class="si" viewBox="0 0 8 8" fill="none" stroke="#9ba0ab" stroke-width="0.8"><circle cx="4" cy="4" r="1.400"/><path d="M4,0.700 L6.900,2.350 V5.650 L4,7.300 L1.100,5.650 V2.350 Z"/></svg><div class="ns">Okta Application</div></div>
<div class="n f" style="left:1900.0px;top:826.3px;width:171px;"><div class="ic" style="background:#3c6cb6"><svg width="19" height="19" viewBox="0 0 19 19" fill="none" stroke="#b7d6fb" stroke-width="1.050" stroke-linecap="round" stroke-linejoin="round"><rect x="4.200" y="5" width="10.600" height="9" rx="0.6"/><path d="M6,7.100 h0.010 M7.600,7.100 h0.010"/></svg></div><div class="nt">h57vl9qzqbajb7</div><svg class="si" viewBox="0 0 8 8" fill="none" stroke="#9ba0ab" stroke-width="0.8"><circle cx="4" cy="4" r="1.400"/><path d="M4,0.700 L6.900,2.350 V5.650 L4,7.300 L1.100,5.650 V2.350 Z"/></svg><div class="ns">Okta Application</div></div>
<div class="n f" style="left:1900.0px;top:874.5px;width:171px;"><div class="ic" style="background:#3c6cb6"><svg width="19" height="19" viewBox="0 0 19 19" fill="none" stroke="#b7d6fb" stroke-width="1.050" stroke-linecap="round" stroke-linejoin="round"><rect x="4.200" y="5" width="10.600" height="9" rx="0.6"/><path d="M6,7.100 h0.010 M7.600,7.100 h0.010"/></svg></div><div class="nt">5uqgjsy3axlsl0</div><svg class="si" viewBox="0 0 8 8" fill="none" stroke="#9ba0ab" stroke-width="0.8"><circle cx="4" cy="4" r="1.400"/><path d="M4,0.700 L6.900,2.350 V5.650 L4,7.300 L1.100,5.650 V2.350 Z"/></svg><div class="ns">Okta Application</div></div>
<div class="n" style="left:1900.0px;top:922.7px;width:171px;border-color:#e6e7ea;box-shadow:0 0.5px 3px rgba(40,40,60,.13);"><div class="ic" style="background:#3c6cb6"><svg width="19" height="19" viewBox="0 0 19 19" fill="none" stroke="#b7d6fb" stroke-width="1.050" stroke-linecap="round" stroke-linejoin="round"><rect x="4.200" y="5" width="10.600" height="9" rx="0.6"/><path d="M6,7.100 h0.010 M7.600,7.100 h0.010"/></svg></div><div class="nt">15a07bi6am9467</div><svg class="si" viewBox="0 0 8 8" fill="none" stroke="#9ba0ab" stroke-width="0.8"><circle cx="4" cy="4" r="1.400"/><path d="M4,0.700 L6.900,2.350 V5.650 L4,7.300 L1.100,5.650 V2.350 Z"/></svg><div class="ns">Okta Application</div></div>
<div class="n f" style="left:1900.0px;top:970.8px;width:171px;"><div class="ic" style="background:#3c6cb6"><svg width="19" height="19" viewBox="0 0 19 19" fill="none" stroke="#b7d6fb" stroke-width="1.050" stroke-linecap="round" stroke-linejoin="round"><ellipse cx="9.500" cy="6.300" rx="4.600" ry="2"/><path d="M4.900,6.300 V12.700 A4.600,2 0 0 0 14.100,12.700 V6.300 M4.900,9.500 A4.600,2 0 0 0 14.100,9.500"/></svg></div><div class="nt">postgres-dev-2</div><svg class="si" viewBox="0 0 8 8" fill="none" stroke="#9ba0ab" stroke-width="0.8"><circle cx="4" cy="4" r="1.400"/><path d="M4,0.700 L6.900,2.350 V5.650 L4,7.300 L1.100,5.650 V2.350 Z"/></svg><div class="ns">Teleport Database</div></div>
<div class="n f" style="left:1900.0px;top:1019.0px;width:171px;"><div class="ic" style="background:#3c6cb6"><svg width="19" height="19" viewBox="0 0 19 19" fill="none" stroke="#b7d6fb" stroke-width="1.050" stroke-linecap="round" stroke-linejoin="round"><rect x="4.200" y="5" width="10.600" height="4" rx="0.6"/><rect x="4.200" y="10.200" width="10.600" height="4" rx="0.6"/></svg></div><div class="nt">b57c4374-5630-48a2-8583-ca...</div><svg class="si" viewBox="0 0 8 8" fill="none" stroke="#9ba0ab" stroke-width="0.8"><circle cx="4" cy="4" r="1.400"/><path d="M4,0.700 L6.900,2.350 V5.650 L4,7.300 L1.100,5.650 V2.350 Z"/></svg><div class="ns">Teleport Server</div></div>
<div class="n f" style="left:2198.0px;top:633.5px;width:171px;"><div class="ic" style="background:#cf9a2b"><svg width="19" height="19" viewBox="0 0 19 19" fill="none" stroke="#f8e6bd" stroke-width="1.050" stroke-linecap="round" stroke-linejoin="round"><rect x="4.300" y="5.300" width="10.400" height="8.400" rx="0.6"/></svg></div><div class="nt">postgres::self-hosted::postgre...</div><svg class="si" viewBox="0 0 8 8" fill="none" stroke="#9ba0ab" stroke-width="0.8"><circle cx="4" cy="4" r="1.400"/><path d="M4,0.700 L6.900,2.350 V5.650 L4,7.300 L1.100,5.650 V2.350 Z"/></svg><div class="ns">Teleport Database Object</div></div>
<div class="n f" style="left:2198.0px;top:681.7px;width:171px;"><div class="ic" style="background:#cf9a2b"><svg width="19" height="19" viewBox="0 0 19 19" fill="none" stroke="#f8e6bd" stroke-width="1.050" stroke-linecap="round" stroke-linejoin="round"><rect x="4.300" y="5.300" width="10.400" height="8.400" rx="0.6"/></svg></div><div class="nt">postgres::self-hosted::postgre...</div><svg class="si" viewBox="0 0 8 8" fill="none" stroke="#9ba0ab" stroke-width="0.8"><circle cx="4" cy="4" r="1.400"/><path d="M4,0.700 L6.900,2.350 V5.650 L4,7.300 L1.100,5.650 V2.350 Z"/></svg><div class="ns">Teleport Database Object</div></div>
<div class="n f" style="left:2198.0px;top:729.9px;width:171px;"><div class="ic" style="background:#cf9a2b"><svg width="19" height="19" viewBox="0 0 19 19" fill="none" stroke="#f8e6bd" stroke-width="1.050" stroke-linecap="round" stroke-linejoin="round"><rect x="4.300" y="5.300" width="10.400" height="8.400" rx="0.6"/></svg></div><div class="nt">postgres::self-hosted::postgre...</div><svg class="si" viewBox="0 0 8 8" fill="none" stroke="#9ba0ab" stroke-width="0.8"><circle cx="4" cy="4" r="1.400"/><path d="M4,0.700 L6.900,2.350 V5.650 L4,7.300 L1.100,5.650 V2.350 Z"/></svg><div class="ns">Teleport Database Object</div></div>
<div class="n f" style="left:2198.0px;top:778.0px;width:171px;"><div class="ic" style="background:#cf9a2b"><svg width="19" height="19" viewBox="0 0 19 19" fill="none" stroke="#f8e6bd" stroke-width="1.050" stroke-linecap="round" stroke-linejoin="round"><rect x="4.300" y="5.300" width="10.400" height="8.400" rx="0.6"/></svg></div><div class="nt">postgres::self-hosted::postgre...</div><svg class="si" viewBox="0 0 8 8" fill="none" stroke="#9ba0ab" stroke-width="0.8"><circle cx="4" cy="4" r="1.400"/><path d="M4,0.700 L6.900,2.350 V5.650 L4,7.300 L1.100,5.650 V2.350 Z"/></svg><div class="ns">Teleport Database Object</div></div>
<div class="n f" style="left:2198.0px;top:826.2px;width:171px;"><div class="ic" style="background:#cf9a2b"><svg width="19" height="19" viewBox="0 0 19 19" fill="none" stroke="#f8e6bd" stroke-width="1.050" stroke-linecap="round" stroke-linejoin="round"><rect x="4.300" y="5.300" width="10.400" height="8.400" rx="0.6"/></svg></div><div class="nt">postgres::self-hosted::postgre...</div><svg class="si" viewBox="0 0 8 8" fill="none" stroke="#9ba0ab" stroke-width="0.8"><circle cx="4" cy="4" r="1.400"/><path d="M4,0.700 L6.900,2.350 V5.650 L4,7.300 L1.100,5.650 V2.350 Z"/></svg><div class="ns">Teleport Database Object</div></div>
<div class="n f" style="left:2198.0px;top:874.4px;width:171px;"><div class="ic" style="background:#cf9a2b"><svg width="19" height="19" viewBox="0 0 19 19" fill="none" stroke="#f8e6bd" stroke-width="1.050" stroke-linecap="round" stroke-linejoin="round"><rect x="4.300" y="5.300" width="10.400" height="8.400" rx="0.6"/></svg></div><div class="nt">postgres::self-hosted::postgre...</div><svg class="si" viewBox="0 0 8 8" fill="none" stroke="#9ba0ab" stroke-width="0.8"><circle cx="4" cy="4" r="1.400"/><path d="M4,0.700 L6.900,2.350 V5.650 L4,7.300 L1.100,5.650 V2.350 Z"/></svg><div class="ns">Teleport Database Object</div></div>
<div class="n f" style="left:2198.0px;top:922.6px;width:171px;"><div class="ic" style="background:#cf9a2b"><svg width="19" height="19" viewBox="0 0 19 19" fill="none" stroke="#f8e6bd" stroke-width="1.050" stroke-linecap="round" stroke-linejoin="round"><rect x="4.300" y="5.300" width="10.400" height="8.400" rx="0.6"/></svg></div><div class="nt">postgres::self-hosted::postgre...</div><svg class="si" viewBox="0 0 8 8" fill="none" stroke="#9ba0ab" stroke-width="0.8"><circle cx="4" cy="4" r="1.400"/><path d="M4,0.700 L6.900,2.350 V5.650 L4,7.300 L1.100,5.650 V2.350 Z"/></svg><div class="ns">Teleport Database Object</div></div>
<div class="n f" style="left:2198.0px;top:970.8px;width:171px;"><div class="ic" style="background:#cf9a2b"><svg width="19" height="19" viewBox="0 0 19 19" fill="none" stroke="#f8e6bd" stroke-width="1.050" stroke-linecap="round" stroke-linejoin="round"><rect x="4.300" y="5.300" width="10.400" height="8.400" rx="0.6"/></svg></div><div class="nt">postgres::self-hosted::postgre...</div><svg class="si" viewBox="0 0 8 8" fill="none" stroke="#9ba0ab" stroke-width="0.8"><circle cx="4" cy="4" r="1.400"/><path d="M4,0.700 L6.900,2.350 V5.650 L4,7.300 L1.100,5.650 V2.350 Z"/></svg><div class="ns">Teleport Database Object</div></div>
<div class="n f" style="left:2198.0px;top:1018.9px;width:171px;"><div class="ic" style="background:#cf9a2b"><svg width="19" height="19" viewBox="0 0 19 19" fill="none" stroke="#f8e6bd" stroke-width="1.050" stroke-linecap="round" stroke-linejoin="round"><rect x="4.300" y="5.300" width="10.400" height="8.400" rx="0.6"/></svg></div><div class="nt">postgres::self-hosted::postgre...</div><svg class="si" viewBox="0 0 8 8" fill="none" stroke="#9ba0ab" stroke-width="0.8"><circle cx="4" cy="4" r="1.400"/><path d="M4,0.700 L6.900,2.350 V5.650 L4,7.300 L1.100,5.650 V2.350 Z"/></svg><div class="ns">Teleport Database Object</div></div>
<div class="n f" style="left:2198.0px;top:1067.1px;width:171px;"><div class="ic" style="background:#cf9a2b"><svg width="19" height="19" viewBox="0 0 19 19" fill="none" stroke="#f8e6bd" stroke-width="1.050" stroke-linecap="round" stroke-linejoin="round"><rect x="4.300" y="5.300" width="10.400" height="8.400" rx="0.6"/></svg></div><div class="nt">postgres::self-hosted::postgre...</div><svg class="si" viewBox="0 0 8 8" fill="none" stroke="#9ba0ab" stroke-width="0.8"><circle cx="4" cy="4" r="1.400"/><path d="M4,0.700 L6.900,2.350 V5.650 L4,7.300 L1.100,5.650 V2.350 Z"/></svg><div class="ns">Teleport Database Object</div></div>
<div class="n f" style="left:2198.0px;top:1115.3px;width:171px;"><div class="ic" style="background:#cf9a2b"><svg width="19" height="19" viewBox="0 0 19 19" fill="none" stroke="#f8e6bd" stroke-width="1.050" stroke-linecap="round" stroke-linejoin="round"><rect x="4.300" y="5.300" width="10.400" height="8.400" rx="0.6"/></svg></div><div class="nt">postgres::self-hosted::postgre...</div><svg class="si" viewBox="0 0 8 8" fill="none" stroke="#9ba0ab" stroke-width="0.8"><circle cx="4" cy="4" r="1.400"/><path d="M4,0.700 L6.900,2.350 V5.650 L4,7.300 L1.100,5.650 V2.350 Z"/></svg><div class="ns">Teleport Database Object</div></div>
<div class="n f" style="left:2198.0px;top:1163.5px;width:171px;"><div class="ic" style="background:#cf9a2b"><svg width="19" height="19" viewBox="0 0 19 19" fill="none" stroke="#f8e6bd" stroke-width="1.050" stroke-linecap="round" stroke-linejoin="round"><rect x="4.300" y="5.300" width="10.400" height="8.400" rx="0.6"/></svg></div><div class="nt">postgres::self-hosted::postgre...</div><svg class="si" viewBox="0 0 8 8" fill="none" stroke="#9ba0ab" stroke-width="0.8"><circle cx="4" cy="4" r="1.400"/><path d="M4,0.700 L6.900,2.350 V5.650 L4,7.300 L1.100,5.650 V2.350 Z"/></svg><div class="ns">Teleport Database Object</div></div>
<div class="n f" style="left:2198.0px;top:1211.7px;width:171px;"><div class="ic" style="background:#cf9a2b"><svg width="19" height="19" viewBox="0 0 19 19" fill="none" stroke="#f8e6bd" stroke-width="1.050" stroke-linecap="round" stroke-linejoin="round"><rect x="4.300" y="5.300" width="10.400" height="8.400" rx="0.6"/></svg></div><div class="nt">postgres::self-hosted::postgre...</div><svg class="si" viewBox="0 0 8 8" fill="none" stroke="#9ba0ab" stroke-width="0.8"><circle cx="4" cy="4" r="1.400"/><path d="M4,0.700 L6.900,2.350 V5.650 L4,7.300 L1.100,5.650 V2.350 Z"/></svg><div class="ns">Teleport Database Object</div></div>
<div class="n f" style="left:2198.0px;top:1259.8px;width:171px;"><div class="ic" style="background:#cf9a2b"><svg width="19" height="19" viewBox="0 0 19 19" fill="none" stroke="#f8e6bd" stroke-width="1.050" stroke-linecap="round" stroke-linejoin="round"><rect x="4.300" y="5.300" width="10.400" height="8.400" rx="0.6"/></svg></div><div class="nt">postgres::self-hosted::postgre...</div><svg class="si" viewBox="0 0 8 8" fill="none" stroke="#9ba0ab" stroke-width="0.8"><circle cx="4" cy="4" r="1.400"/><path d="M4,0.700 L6.900,2.350 V5.650 L4,7.300 L1.100,5.650 V2.350 Z"/></svg><div class="ns">Teleport Database Object</div></div>
<div class="n f" style="left:2198.0px;top:1308.0px;width:171px;"><div class="ic" style="background:#cf9a2b"><svg width="19" height="19" viewBox="0 0 19 19" fill="none" stroke="#f8e6bd" stroke-width="1.050" stroke-linecap="round" stroke-linejoin="round"><rect x="4.300" y="5.300" width="10.400" height="8.400" rx="0.6"/></svg></div><div class="nt">postgres::self-hosted::postgre...</div><svg class="si" viewBox="0 0 8 8" fill="none" stroke="#9ba0ab" stroke-width="0.8"><circle cx="4" cy="4" r="1.400"/><path d="M4,0.700 L6.900,2.350 V5.650 L4,7.300 L1.100,5.650 V2.350 Z"/></svg><div class="ns">Teleport Database Object</div></div>
<div class="a" style="left:32.5px;top:1390.500px;width:66.500px;height:265px;border-radius:18px;border:2px solid #d1d2d5;background:#f5f6f7"></div>
<div class="a" style="left:33.500px;top:1456.5px;width:64.500px;height:1.5px;background:#d3d4d7"></div>
<div class="a" style="left:33.500px;top:1522.5px;width:64.500px;height:1.5px;background:#d3d4d7"></div>
<div class="a" style="left:33.500px;top:1588.5px;width:64.500px;height:1.5px;background:#d3d4d7"></div>
<svg style="left:51.8px;top:1409.7px" width="28" height="28" viewBox="0 0 28 28" fill="none" stroke="#1c2028" stroke-width="1.750" stroke-linecap="round" stroke-linejoin="round"><circle cx="14" cy="14" r="10.600"/><path d="M10.800,11.200 Q10.800,8 14,8 Q17.300,8 17.300,11 Q17.300,13.200 14,14.200 V15.500"/><circle cx="14" cy="19.200" r="0.700" fill="#1c2028"/></svg>
<svg style="left:51.8px;top:1475.7px" width="28" height="28" viewBox="0 0 28 28" fill="none" stroke="#1c2028" stroke-width="1.750" stroke-linecap="round" stroke-linejoin="round"><circle cx="12.200" cy="12.200" r="8.600"/><path d="M18.500,18.500 L24.500,24.500 M8.500,12.200 H15.900 M12.200,8.500 V15.900"/></svg>
<svg style="left:51.8px;top:1541.7px" width="28" height="28" viewBox="0 0 28 28" fill="none" stroke="#1c2028" stroke-width="1.750" stroke-linecap="round" stroke-linejoin="round"><circle cx="12.200" cy="12.200" r="8.600"/><path d="M18.500,18.500 L24.500,24.500 M8.500,12.200 H15.900"/></svg>
<svg style="left:51.8px;top:1607.7px" width="28" height="28" viewBox="0 0 28 28" fill="none" stroke="#1c2028" stroke-width="1.750" stroke-linecap="round" stroke-linejoin="round"><rect x="9" y="9" width="10" height="10"/><path d="M4,9 V4 H9 M19,4 H24 V9 M24,19 V24 H19 M9,24 H4 V19"/></svg>
</div>
</body></html>
